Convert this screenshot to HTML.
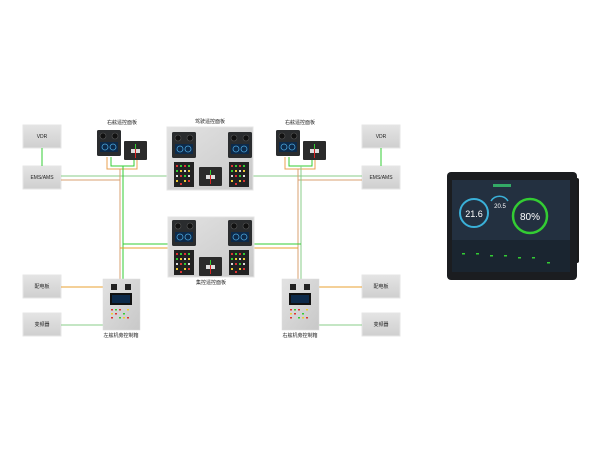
<!DOCTYPE html>
<html><head><meta charset="utf-8"><style>
body{margin:0;background:#fff;width:600px;height:456px;overflow:hidden;font-family:"Liberation Sans","Noto Sans CJK SC",sans-serif}
</style></head><body>
<svg width="600" height="456" viewBox="0 0 600 456" xmlns="http://www.w3.org/2000/svg" font-family="Liberation Sans, Noto Sans CJK SC, sans-serif">
<defs>
<linearGradient id="g" x1="0" y1="0" x2="0" y2="1"><stop offset="0" stop-color="#e4e4e4"/><stop offset="1" stop-color="#cfcfcf"/></linearGradient>
<linearGradient id="p" x1="0" y1="0" x2="1" y2="1"><stop offset="0" stop-color="#e2e2e2"/><stop offset="1" stop-color="#c8c8c8"/></linearGradient>
<g id="big"><rect width="24" height="26" rx="1.5" fill="#2a2c2e"/><circle cx="6" cy="6" r="3" fill="#111" stroke="#555" stroke-width="0.6"/><circle cx="18" cy="6" r="3" fill="#111" stroke="#555" stroke-width="0.6"/><rect x="3" y="12" width="18" height="10" fill="#0d2a4a"/><circle cx="8" cy="17" r="3" fill="none" stroke="#4aa3d8" stroke-width="0.8"/><circle cx="16" cy="17" r="3" fill="none" stroke="#4aa3d8" stroke-width="0.8"/></g>
<g id="btn"><rect width="20" height="25" fill="#222"/><g fill="#d33"><rect x="2" y="3" width="2" height="2"/><rect x="10" y="3" width="2" height="2"/><rect x="6" y="13" width="2" height="2"/><rect x="14" y="18" width="2" height="2"/><rect x="6" y="21" width="2" height="2"/></g><g fill="#3c3"><rect x="6" y="3" width="2" height="2"/><rect x="14" y="3" width="2" height="2"/><rect x="2" y="8" width="2" height="2"/><rect x="10" y="13" width="2" height="2"/></g><g fill="#ec3"><rect x="6" y="8" width="2" height="2"/><rect x="14" y="8" width="2" height="2"/><rect x="2" y="18" width="2" height="2"/><rect x="10" y="18" width="2" height="2"/></g><g fill="#ddd"><rect x="10" y="8" width="2" height="2"/><rect x="2" y="13" width="2" height="2"/><rect x="14" y="13" width="2" height="2"/></g></g>
<g id="lev"><rect width="23" height="19" rx="1" fill="#2a2a2a"/><rect x="7" y="8" width="9" height="4" fill="#ddd"/><line x1="11.5" y1="3" x2="11.5" y2="17" stroke="#d22" stroke-width="1"/><line x1="11.5" y1="3" x2="11.5" y2="8" stroke="#3c3" stroke-width="1"/></g>
<g id="cab"><rect width="37" height="51" fill="url(#p)" stroke="#ddd" stroke-width="0.5"/><rect x="8" y="5" width="6" height="6" fill="#222"/><rect x="22" y="5" width="6" height="6" fill="#222"/><rect x="7" y="14" width="22" height="12" fill="#111"/><rect x="9" y="16" width="18" height="8" fill="#0d2a4a"/><g fill="#d33"><rect x="8" y="30" width="2" height="1.5"/><rect x="16" y="30" width="2" height="1.5"/><rect x="12" y="34" width="2" height="1.5"/><rect x="24" y="38" width="2" height="1.5"/><rect x="8" y="38" width="2" height="1.5"/></g><g fill="#3c3"><rect x="12" y="30" width="2" height="1.5"/><rect x="20" y="34" width="2" height="1.5"/><rect x="16" y="38" width="2" height="1.5"/></g><g fill="#ec3"><rect x="24" y="30" width="2" height="1.5"/><rect x="8" y="34" width="2" height="1.5"/><rect x="20" y="38" width="2" height="1.5"/></g></g>
</defs>
<g fill="url(#g)" stroke="#e6e6e6" stroke-width="1">
<rect x="23" y="125" width="38" height="23"/><rect x="23" y="166" width="38" height="23"/><rect x="23" y="275" width="38" height="23"/><rect x="23" y="313" width="38" height="23"/>
<rect x="362" y="125" width="38" height="23"/><rect x="362" y="166" width="38" height="23"/><rect x="362" y="275" width="38" height="23"/><rect x="362" y="313" width="38" height="23"/>
</g>
<g font-size="5" fill="#222" text-anchor="middle">
<text x="42" y="138">VDR</text><text x="42" y="179">EMS/AMS</text><text x="42" y="288">配电板</text><text x="42" y="326">变频器</text>
<text x="381" y="138">VDR</text><text x="381" y="179">EMS/AMS</text><text x="381" y="288">配电板</text><text x="381" y="326">变频器</text>
<text x="122" y="124">右舷遥控面板</text><text x="210" y="123">驾驶遥控面板</text><text x="300" y="124">右舷遥控面板</text>
<text x="211" y="284">集控遥控面板</text><text x="121" y="337">左舷机旁控制箱</text><text x="300" y="337">右舷机旁控制箱</text>
</g>
<g fill="none" stroke-width="1">
<line x1="42" y1="148" x2="42" y2="166" stroke="#3c3"/><line x1="381" y1="148" x2="381" y2="166" stroke="#3c3"/>
<line x1="61" y1="176" x2="167" y2="176" stroke="#8c8"/><line x1="253" y1="176" x2="362" y2="176" stroke="#8c8"/>
<line x1="61" y1="180" x2="120" y2="180" stroke="#daa070"/><line x1="298" y1="180" x2="362" y2="180" stroke="#daa070"/>
<polyline points="107,157 107,169 137,169 137,157" stroke="#e8a050"/><polyline points="111,157 111,166 134,166 134,157" stroke="#3c3"/>
<polyline points="285,157 285,169 315,169 315,157" stroke="#e8a050"/><polyline points="289,157 289,166 312,166 312,157" stroke="#3c3"/>
<line x1="120" y1="169" x2="120" y2="279" stroke="#daa070"/><line x1="123" y1="166" x2="123" y2="279" stroke="#3c3"/>
<line x1="298" y1="169" x2="298" y2="279" stroke="#daa070"/><line x1="301" y1="166" x2="301" y2="279" stroke="#8c8"/>
<line x1="123" y1="244" x2="168" y2="244" stroke="#3c3"/><line x1="120" y1="248" x2="168" y2="248" stroke="#e8a030"/>
<line x1="254" y1="244" x2="301" y2="244" stroke="#3c3"/><line x1="254" y1="248" x2="298" y2="248" stroke="#e8a030"/>
<line x1="61" y1="287" x2="103" y2="287" stroke="#e8a030"/><line x1="61" y1="325" x2="103" y2="325" stroke="#8c8"/>
<line x1="319" y1="287" x2="362" y2="287" stroke="#e8a030"/><line x1="319" y1="325" x2="362" y2="325" stroke="#8c8"/>
</g>
<rect x="167" y="127" width="86" height="63" fill="url(#p)" stroke="#e4e4e4"/>
<use href="#big" x="172" y="132"/><use href="#big" x="228" y="132"/><use href="#btn" x="174" y="162"/><use href="#lev" x="199" y="167"/><use href="#btn" x="229" y="162"/>
<rect x="168" y="217" width="86" height="60" fill="url(#p)" stroke="#e4e4e4"/>
<use href="#big" x="172" y="220"/><use href="#big" x="228" y="220"/><use href="#btn" x="174" y="250"/><use href="#lev" x="199" y="257"/><use href="#btn" x="229" y="250"/>
<use href="#big" x="97" y="130"/><use href="#lev" x="124" y="141"/>
<use href="#big" x="276" y="130"/><use href="#lev" x="303" y="141"/>
<use href="#cab" x="103" y="279"/><use href="#cab" x="282" y="279"/>
<rect x="573" y="178" width="6" height="85" rx="2" fill="#1a1a1a"/>
<rect x="447" y="172" width="130" height="108" rx="4" fill="#1b1d20"/>
<rect x="452" y="180" width="118" height="92" fill="#233040"/>
<rect x="452" y="240" width="118" height="32" fill="#1a2530"/>
<circle cx="474" cy="213" r="14" fill="none" stroke="#3ab0d8" stroke-width="2"/>
<circle cx="530" cy="216" r="17" fill="none" stroke="#3c3" stroke-width="2.5"/>
<path d="M491 201 A10 10 0 0 1 508 201" fill="none" stroke="#3ab0d8" stroke-width="1.5"/>
<text x="474" y="217" font-size="9" fill="#fff" text-anchor="middle">21.6</text>
<text x="500" y="208" font-size="6" fill="#fff" text-anchor="middle">20.5</text>
<text x="530" y="220" font-size="10" fill="#fff" text-anchor="middle">80%</text>
<g fill="#3c3"><rect x="462" y="253" width="3" height="1.5"/><rect x="476" y="253" width="3" height="1.5"/><rect x="490" y="255" width="3" height="1.5"/><rect x="504" y="255" width="3" height="1.5"/><rect x="518" y="257" width="3" height="1.5"/><rect x="532" y="257" width="3" height="1.5"/><rect x="547" y="262" width="3" height="1.5"/></g>
<rect x="493" y="184" width="18" height="3" fill="#3a6"/>
</svg>
</body></html>
